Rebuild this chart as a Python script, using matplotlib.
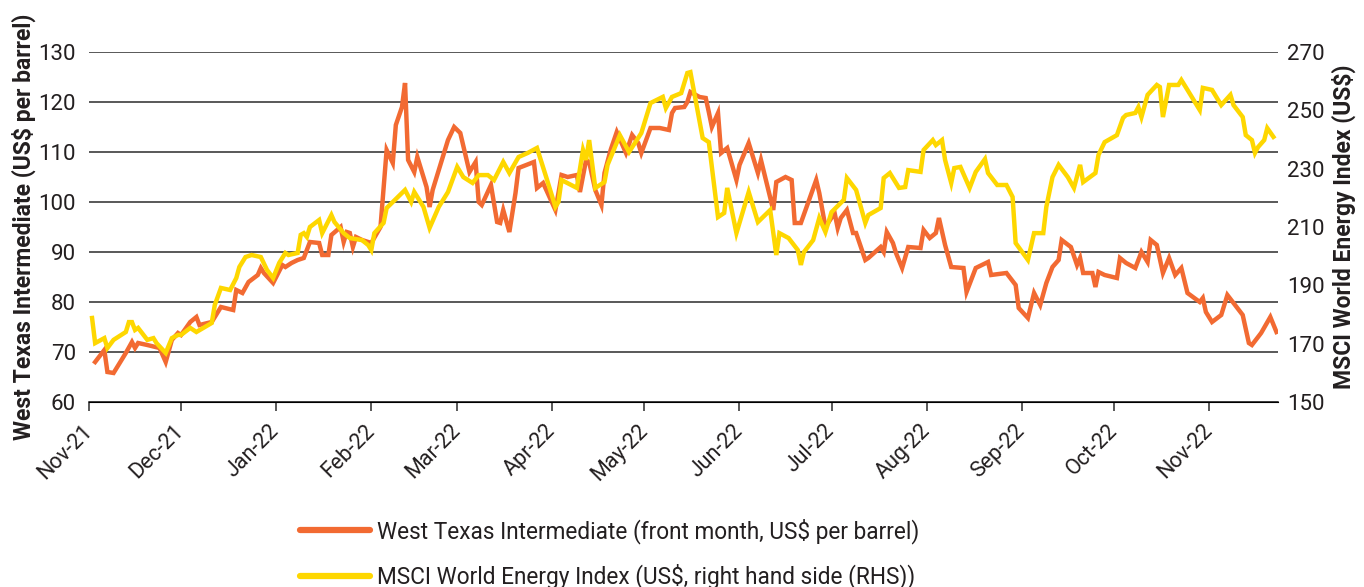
import numpy as np
import matplotlib
matplotlib.use('Agg')
import matplotlib.pyplot as plt
import matplotlib.dates as mdates
from matplotlib.lines import Line2D

plt.rcParams['font.family'] = ['Roboto', 'DejaVu Sans']

START = np.datetime64('2021-11-01')

# West Texas Intermediate, US$ per barrel (days since 1 Nov 2021, value)
wti_days = [2, 5, 6, 8, 12, 14, 15, 16, 19, 23, 25, 27, 29, 30, 33, 35, 36, 40, 42, 43,
            47, 48, 50, 52, 55, 56, 57, 60, 63, 64, 66, 68, 70, 72, 75, 76, 78, 79, 82, 83,
            84, 85, 86, 87, 89, 92, 95, 97, 99, 100, 102, 103, 104, 106, 107, 110, 111, 112, 117, 119,
            121, 124, 126, 127, 128, 131, 133, 134, 135, 137, 139, 140, 145, 146, 148, 152, 153, 154, 156, 159,
            160, 162, 163, 165, 167, 168, 170, 172, 175, 177, 179, 180, 183, 186, 189, 190, 191, 194, 195, 196,
            199, 201, 202, 203, 205, 206, 208, 211, 212, 215, 218, 219, 223, 224, 227, 229, 230, 232, 237, 238,
            240, 243, 244, 245, 247, 249, 250, 253, 254, 258, 259, 260, 262, 263, 265, 267, 271, 272, 274, 276,
            277, 279, 281, 285, 286, 289, 293, 294, 299, 302, 303, 306, 308, 310, 312, 314, 316, 317, 320, 322,
            323, 324, 327, 328, 329, 331, 335, 336, 338, 341, 343, 345, 346, 348, 350, 352, 354, 356, 358, 362,
            363, 364, 366, 369, 371, 376, 378, 379, 382, 385, 387]
wti_vals = [68.0, 70.4, 66.0, 65.8, 69.8, 72.0, 70.8, 71.8, 71.4, 70.8, 68.0, 72.4, 73.8, 73.4, 76.0, 77.0, 75.4, 76.0, 78.0, 79.0,
            78.4, 82.4, 81.8, 84.0, 85.4, 86.8, 85.8, 83.8, 87.4, 87.0, 87.8, 88.4, 88.8, 92.0, 91.8, 89.4, 89.4, 93.4, 95.0, 92.0,
            94.0, 93.8, 91.0, 93.0, 92.4, 91.8, 95.0, 110.4, 107.8, 115.4, 119.0, 123.8, 108.4, 106.0, 109.0, 103.0, 99.0, 102.4, 112.4, 115.0,
            113.8, 106.0, 108.0, 100.0, 99.4, 103.4, 96.0, 95.8, 98.4, 94.0, 101.8, 106.8, 108.0, 102.8, 103.8, 98.4, 101.8, 105.4, 105.0, 105.4,
            102.0, 108.4, 108.0, 102.4, 99.4, 105.8, 110.4, 114.0, 109.8, 113.4, 111.8, 109.8, 114.8, 114.8, 114.4, 117.8, 118.8, 119.0, 120.0, 122.0,
            121.0, 120.8, 118.0, 115.0, 117.8, 109.8, 110.8, 104.4, 107.4, 111.8, 105.8, 108.4, 98.4, 104.0, 105.0, 104.4, 95.8, 95.8, 104.4, 101.8,
            95.0, 97.8, 94.8, 96.8, 98.4, 93.8, 93.8, 88.4, 88.8, 91.0, 90.0, 94.0, 91.8, 89.8, 86.8, 91.0, 90.8, 94.4, 92.8, 93.8,
            96.8, 91.4, 87.0, 86.8, 82.0, 86.8, 88.0, 85.4, 85.8, 83.4, 78.8, 76.8, 81.8, 79.4, 83.8, 87.0, 88.4, 92.4, 91.0, 87.4,
            88.8, 85.8, 85.8, 83.0, 86.0, 85.4, 84.8, 88.8, 87.8, 86.8, 90.0, 88.0, 92.4, 91.4, 85.8, 88.8, 85.4, 86.8, 81.8, 80.0,
            80.8, 78.0, 76.0, 77.4, 81.4, 77.4, 71.8, 71.4, 73.8, 77.0, 74.0]

# MSCI World Energy Index, US$ (days since 1 Nov 2021, value)
msci_days = [1, 2, 5, 6, 8, 12, 13, 14, 15, 16, 19, 21, 22, 25, 27, 29, 30, 33, 35, 40,
             41, 43, 46, 48, 49, 51, 53, 56, 58, 60, 62, 64, 65, 68, 69, 70, 71, 72, 75, 76,
             79, 80, 83, 85, 89, 91, 92, 93, 96, 97, 103, 105, 106, 109, 111, 114, 117, 120, 122, 125,
             127, 130, 132, 135, 137, 140, 143, 146, 149, 152, 153, 154, 159, 161, 162, 163, 165, 168, 169, 173,
             176, 180, 183, 187, 188, 190, 193, 195, 196, 200, 202, 205, 207, 208, 211, 212, 215, 218, 222, 224,
             225, 228, 231, 232, 233, 236, 238, 240, 242, 246, 247, 250, 253, 254, 258, 259, 261, 264, 266, 267,
             271, 272, 275, 276, 278, 279, 281, 282, 284, 287, 289, 292, 293, 296, 299, 301, 302, 306, 308, 311,
             312, 314, 316, 319, 321, 323, 324, 328, 329, 331, 335, 337, 338, 341, 342, 343, 345, 348, 349, 350,
             352, 355, 356, 358, 362, 363, 366, 369, 372, 373, 376, 377, 379, 380, 381, 383, 384, 386]
msci_vals = [178.8, 170.2, 171.9, 168.5, 171.3, 174.0, 177.4, 177.4, 174.7, 175.4, 171.3, 171.9, 170.2, 166.8, 171.9, 173.0, 173.0, 175.4, 174.0, 177.1,
             183.3, 189.1, 188.4, 192.5, 196.3, 199.7, 200.4, 199.7, 195.3, 192.5, 197.7, 201.1, 200.4, 201.1, 207.3, 207.9, 206.6, 210.0, 212.4, 207.9,
             214.1, 211.7, 207.9, 206.2, 205.5, 203.8, 202.1, 207.9, 211.4, 216.5, 222.7, 218.6, 222.0, 216.9, 209.7, 216.9, 222.0, 230.6, 227.1, 225.1,
             227.8, 227.8, 226.1, 232.3, 228.5, 234.0, 235.4, 237.1, 227.1, 216.9, 218.6, 226.1, 223.4, 236.4, 233.0, 239.8, 223.4, 225.4, 231.3, 241.5,
             235.7, 242.2, 252.5, 254.6, 250.8, 254.6, 255.9, 262.8, 263.1, 240.5, 239.1, 213.4, 214.8, 223.4, 207.9, 211.4, 222.0, 211.7, 215.8, 200.4,
             207.9, 206.2, 202.1, 197.0, 201.4, 205.5, 213.1, 208.3, 215.1, 219.3, 226.8, 222.7, 211.4, 214.1, 216.5, 226.8, 228.5, 223.4, 223.7, 229.5,
             228.9, 236.4, 239.8, 238.1, 239.8, 233.0, 225.1, 230.2, 230.6, 223.4, 228.9, 233.3, 228.5, 224.4, 224.4, 220.3, 204.5, 198.7, 207.9, 207.9,
             216.9, 227.1, 231.3, 227.1, 223.4, 231.3, 225.4, 228.5, 234.7, 239.1, 241.5, 247.4, 248.4, 249.1, 251.1, 247.7, 255.3, 258.7, 258.0, 247.7,
             258.7, 258.7, 260.4, 257.0, 250.1, 257.7, 257.0, 251.8, 255.3, 251.8, 247.7, 241.5, 239.8, 235.4, 237.4, 239.8, 243.9, 240.9]

wti_labels = 'West Texas Intermediate (front month, US$ per barrel)'
msci_labels = 'MSCI World Energy Index (US$, right hand side (RHS))'

ORANGE = '#F26A32'
YELLOW = '#FED700'
TEXT = '#231F20'
GRID = '#3c3c3c'

wti_x = START + np.array(wti_days, dtype='timedelta64[D]')
msci_x = START + np.array(msci_days, dtype='timedelta64[D]')

fig = plt.figure(figsize=(13.64, 5.87), dpi=100)
ax = fig.add_axes([89 / 1364, 1 - 402 / 587, (1278 - 89) / 1364, 350 / 587])
ax2 = ax.twinx()

ax.plot(wti_x, wti_vals, color=ORANGE, lw=3.2, solid_joinstyle='miter')
ax2.plot(msci_x, msci_vals, color=YELLOW, lw=3.2, solid_joinstyle='miter')

ax.set_xlim(START, START + np.timedelta64(387, 'D') + np.timedelta64(12, 'h'))
ax.set_ylim(60, 130)
ax.set_yticks(range(60, 131, 10))
ax2.set_ylim(150, 270)
ax2.set_yticks(range(150, 271, 20))

ax.yaxis.grid(True, color=GRID, lw=1.2)
ax.set_axisbelow(True)

for a in (ax, ax2):
    for s in ('top', 'right', 'left'):
        a.spines[s].set_visible(False)
ax.spines['bottom'].set_color(GRID)
ax.spines['bottom'].set_linewidth(1.2)

ax.xaxis.set_major_locator(mdates.MonthLocator())
ax.xaxis.set_major_formatter(mdates.DateFormatter('%b-%y'))
ax.tick_params(axis='x', length=6.5, width=1.2, color=GRID, pad=12,
               labelsize=15.5, labelcolor=TEXT)
for lab in ax.get_xticklabels():
    lab.set_rotation(45)
    lab.set_ha('right')
    lab.set_va('center')
    lab.set_rotation_mode('anchor')

ax.tick_params(axis='y', length=0, pad=9.5, labelsize=16, labelcolor=TEXT)
ax2.tick_params(axis='y', length=0, pad=6.5, labelsize=16, labelcolor=TEXT)

ax.set_ylabel('West Texas Intermediate (US$ per barrel)', fontsize=16.5,
              fontweight='bold', color=TEXT, labelpad=2)
ax2.set_ylabel('MSCI World Energy Index (US$)', fontsize=16.5,
               fontweight='bold', color=TEXT, labelpad=5)

handles = [Line2D([], [], color=ORANGE, lw=4.5, solid_capstyle='round'),
           Line2D([], [], color=YELLOW, lw=4.5, solid_capstyle='round')]
fig.legend(handles, [wti_labels, msci_labels], loc='upper left',
           bbox_to_anchor=(300 / 1364, 1 - 518 / 587), frameon=False,
           fontsize=16.3, handlelength=3.1, handletextpad=0.3,
           labelspacing=0.9, borderpad=0, borderaxespad=0,
           labelcolor=TEXT)

fig.savefig('out.png', dpi=100)
